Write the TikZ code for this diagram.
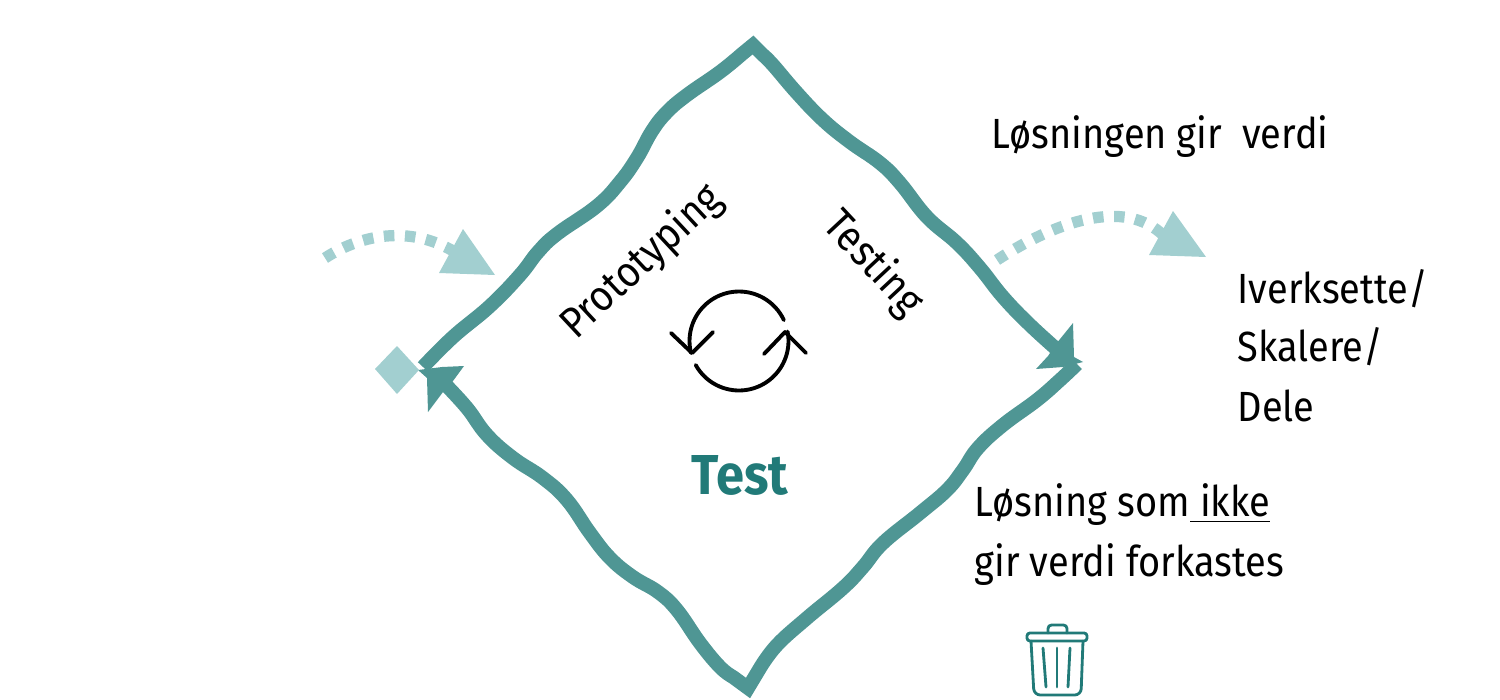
\documentclass[tikz,border=0pt]{standalone}
\usepackage{fontspec}
\setmainfont[FakeStretch=0.9]{Fira Sans}
\definecolor{wavecol}{HTML}{4F9694}
\definecolor{palecol}{HTML}{A2CFD0}
\definecolor{deepcol}{HTML}{217A78}
\tikzset{
	wave/.style={wavecol, line width=4pt, line join=miter, miter limit=10},
	hop/.style={palecol, line width=3.2pt, dash pattern=on 3pt off 3pt},
	label/.style={anchor=base west, inner sep=0pt, font=\fontsize{12}{17}\selectfont},
	turned/.style={font=\fontsize{12.2}{15}\selectfont},
	cycle/.style={black, line width=1.1pt, line cap=round, line join=round},
	bin/.style={deepcol, line width=0.8pt, line cap=round, line join=round},
}
\begin{document}
\begin{tikzpicture}[x=0.01cm, y=-0.01cm]
	\useasboundingbox (0,0) rectangle (1500,700);
	% wavy square, upper half
	\draw[wave] plot[smooth, tension=0.7] coordinates {(423,367) (453,337) (490,306) (520,275) (538,252) (557,234) (597,206) (620,182) (637,158) (652,131) (667,112) (687,95) (720,72) (742,54)} -- (753,45) -- plot[smooth, tension=0.7] coordinates {(763,55) (773,65) (797,93) (823,120) (850,142) (880,163) (900,183) (927,217) (957,243) (980,268) (1003,297) (1030,325) (1062,354)};
	% lower half
	\draw[wave] plot[smooth, tension=0.7] coordinates {(1077,364) (1060,380) (1037,400) (1003,425) (978,448) (963,470) (947,490) (920,513) (883,543) (863,567) (843,588) (807,618) (777,645) (760,668)} -- (748,688) -- plot[smooth, tension=0.7] coordinates {(733,677) (720,667) (700,643) (677,610) (658,592) (633,577) (610,558) (590,533) (567,500) (543,478) (513,458) (487,435) (467,408) (444,383)};
	% heads on the wave
	\fill[wavecol] (1073,323) -- (1074,357) -- (1083,362) -- (1063,367) -- (1036,369) -- (1048,356) -- (1056,344) -- cycle;
	\fill[wavecol] (418,370) -- (442,367) -- (464,366) -- (453,381) -- (443,392) -- (428,412) -- (427,378) -- cycle;
	% entry and exit
	\fill[palecol] (397,346) -- (419,370) -- (397,394) -- (375,369) -- cycle;
	\draw[hop] (325,258) .. controls (365,232) and (415,226) .. (458,254);
	\fill[palecol] (463,229) -- (495,275) -- (439,273) -- cycle;
	\draw[hop] (997,260) .. controls (1055,222) and (1125,197) .. (1164,236);
	\fill[palecol] (1173,211) -- (1206,257) -- (1149,255) -- cycle;
	% cycle icon
	\draw[cycle] plot[domain=25:194, samples=40] ({739+49.5*cos(\x)},{341-49.5*sin(\x)});
	\draw[cycle] plot[domain=209:371, samples=40] ({739+49.5*cos(\x)},{341-49.5*sin(\x)});
	\draw[cycle] (671,333) -- (692,353) -- (713,332);
	\draw[cycle] (764,354) -- (785,332) -- (806,353);
	% bin
	\draw[bin, rounded corners=0.8] (1027,633) rectangle (1087,641);
	\draw[bin, rounded corners=1] (1048,633) -- (1048,625) -- (1067,625) -- (1067,633);
	\draw[bin, rounded corners=1.8] (1031,641) -- (1034,695) -- (1081,695) -- (1083,641);
	\foreach \a/\b in {1043/1046, 1057/1057, 1070/1068} {\draw[bin] (\a,648) -- (\b,687);}
	% labels
	\node[turned, rotate=43] (proto) at (642,262) {Prototyping};
	\node[turned, rotate=-47] (testing) at (873,264) {Testing};
	\node[deepcol, font=\fontsize{16}{19}\selectfont\bfseries] (test) at (740,475) {Test};
	\node[label] (value) at (991,148) {Løsningen gir\ \ verdi};
	\node[label] (scale) at (1237,303) {Iverksette/};
	\node[label] (scale2) at (1237,361) {Skalere/};
	\node[label] (scale3) at (1237,421) {Dele};
	\node[label] (discard) at (974,516) {Løsning som\underline{ ikke}};
	\node[label] (discard2) at (974,576) {gir verdi forkastes};
\end{tikzpicture}
\end{document}
